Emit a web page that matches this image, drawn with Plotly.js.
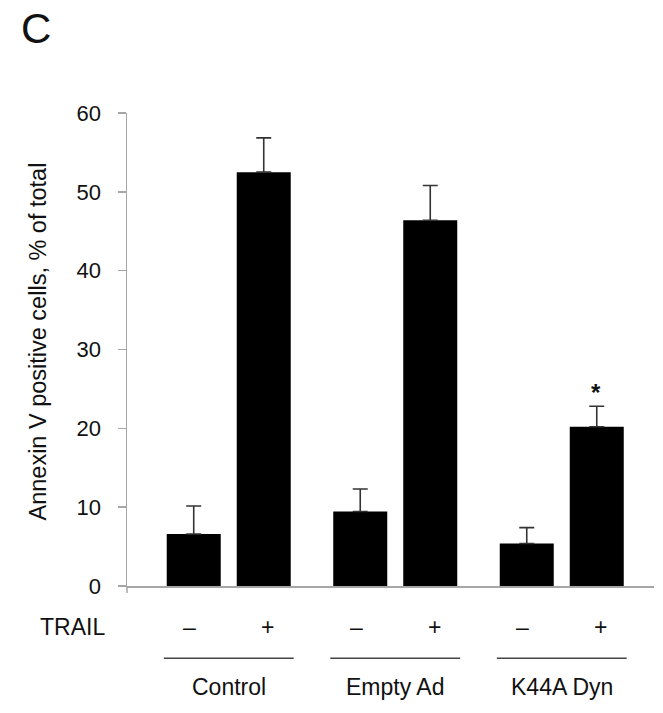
<!DOCTYPE html>
<html>
<head>
<meta charset="utf-8">
<script src="https://cdn.plot.ly/plotly-3.0.1.min.js"></script>
<style>html,body{margin:0;padding:0;background:#fff;}#chart{width:663px;height:713px;}</style>
</head>
<body>
<div id="chart"></div>
<script>
// ---- data ----
const groups = ["Control", "Empty Ad", "K44A Dyn"];
const trailLabels = ["\u2013", "+"];
const trailMinus = [6.6, 9.45, 5.4];
const trailMinusErr = [3.55, 2.85, 2.0];
const trailPlus = [52.5, 46.4, 20.2];
const trailPlusErr = [4.35, 4.4, 2.6];
const yTicks = [0, 10, 20, 30, 40, 50, 60];
const significant = [false, false, true]; // asterisk over TRAIL + bar
const panelLabel = "C";
const yTitle = "Annexin V positive cells, % of total";
const rowLabel = "TRAIL";

// ---- style ----
const FONT = "Liberation Sans, Arial, Helvetica, sans-serif";
const AXIS = "#a6a6a6";
const TXT = "#111111";
const slotPx = 70;      // offset between -/+ bars in a group (px)
const catPx = 166.5;    // category width (px)
const signPx = 39;      // offset of -/+ labels from group centre (px)

function bar(name, y, err) {
  return {
    type: "bar", name: name, x: groups, y: y,
    marker: {color: "#000000", line: {width: 0}},
    error_y: {type: "data", array: err, arrayminus: y.map(() => 0), symmetric: false,
              color: "#333333", thickness: 1.6, width: 7.5},
    hoverinfo: "skip"
  };
}

const data = [bar(trailLabels[0], trailMinus, trailMinusErr), bar(trailLabels[1], trailPlus, trailPlusErr)];

const annotations = [];
const shapes = [];
// panel letter
annotations.push({text: panelLabel, xref: "paper", yref: "paper", x: 0, y: 1, xshift: -91, yshift: 85,
  xanchor: "center", yanchor: "middle", showarrow: false, font: {family: FONT, size: 42, color: TXT}});
// y title
annotations.push({text: yTitle, xref: "paper", yref: "paper", x: 0, y: 0.5, xshift: -90, yshift: 8,
  textangle: -90, xanchor: "center", yanchor: "middle", showarrow: false, font: {family: FONT, size: 23.5, color: TXT}});
// TRAIL row label
annotations.push({text: rowLabel, xref: "paper", yref: "paper", x: 0, y: 0, xshift: -20, yshift: -41,
  xanchor: "right", yanchor: "middle", showarrow: false, font: {family: FONT, size: 23, color: TXT}});
groups.forEach((g, i) => {
  // -/+ labels
  trailLabels.forEach((lab, j) => {
    annotations.push({text: lab, xref: "x", yref: "paper", x: g, y: 0, xshift: (j === 0 ? -1 : 1) * signPx,
      yshift: -41, xanchor: "center", yanchor: "middle", showarrow: false, font: {family: FONT, size: 23, color: TXT}});
  });
  // group underline
  shapes.push({type: "line", xref: "x", yref: "paper", x0: i - 0.39, x1: i + 0.39, y0: -0.153, y1: -0.153,
    line: {color: "#444444", width: 1.5}});
  // group label
  annotations.push({text: g, xref: "x", yref: "paper", x: g, y: 0, yshift: -101,
    xanchor: "center", yanchor: "middle", showarrow: false, font: {family: FONT, size: 23, color: TXT}});
  if (significant[i]) {
    annotations.push({text: "<b>*</b>", xref: "x", yref: "y", x: g, y: trailPlus[i] + trailPlusErr[i],
      xshift: slotPx / 2 - 1, yshift: -2, xanchor: "center", yanchor: "bottom", showarrow: false,
      font: {family: FONT, size: 24, color: TXT}});
  }
});
// small extension of y axis below zero
shapes.push({type: "line", xref: "paper", yref: "paper", x0: 0, x1: 0, y0: 0, y1: -0.015,
  line: {color: AXIS, width: 1.5}});

const layout = {
  width: 663, height: 713,
  margin: {l: 127, r: 9, t: 113, b: 127, pad: 0},
  paper_bgcolor: "#ffffff", plot_bgcolor: "#ffffff",
  showlegend: false,
  barmode: "group",
  bargap: 1 - 2 * slotPx / catPx,
  bargroupgap: 1 - 54 / slotPx,
  xaxis: {type: "category", range: [-0.611, 2.554], showticklabels: false, ticks: "",
    showline: true, linecolor: AXIS, linewidth: 1.5, showgrid: false, zeroline: false, fixedrange: true},
  yaxis: {range: [0, 60], tickvals: yTicks, ticktext: yTicks.map(String), ticks: "outside", ticklen: 8,
    tickcolor: AXIS, tickwidth: 1.5, showline: true, linecolor: AXIS, linewidth: 1.5, showgrid: false,
    zeroline: false, ticklabelstandoff: 12, tickfont: {family: FONT, size: 22, color: TXT}, fixedrange: true},
  annotations: annotations,
  shapes: shapes,
  font: {family: FONT, color: TXT}
};

Plotly.newPlot("chart", data, layout, {displayModeBar: false, staticPlot: true});
</script>
</body>
</html>
